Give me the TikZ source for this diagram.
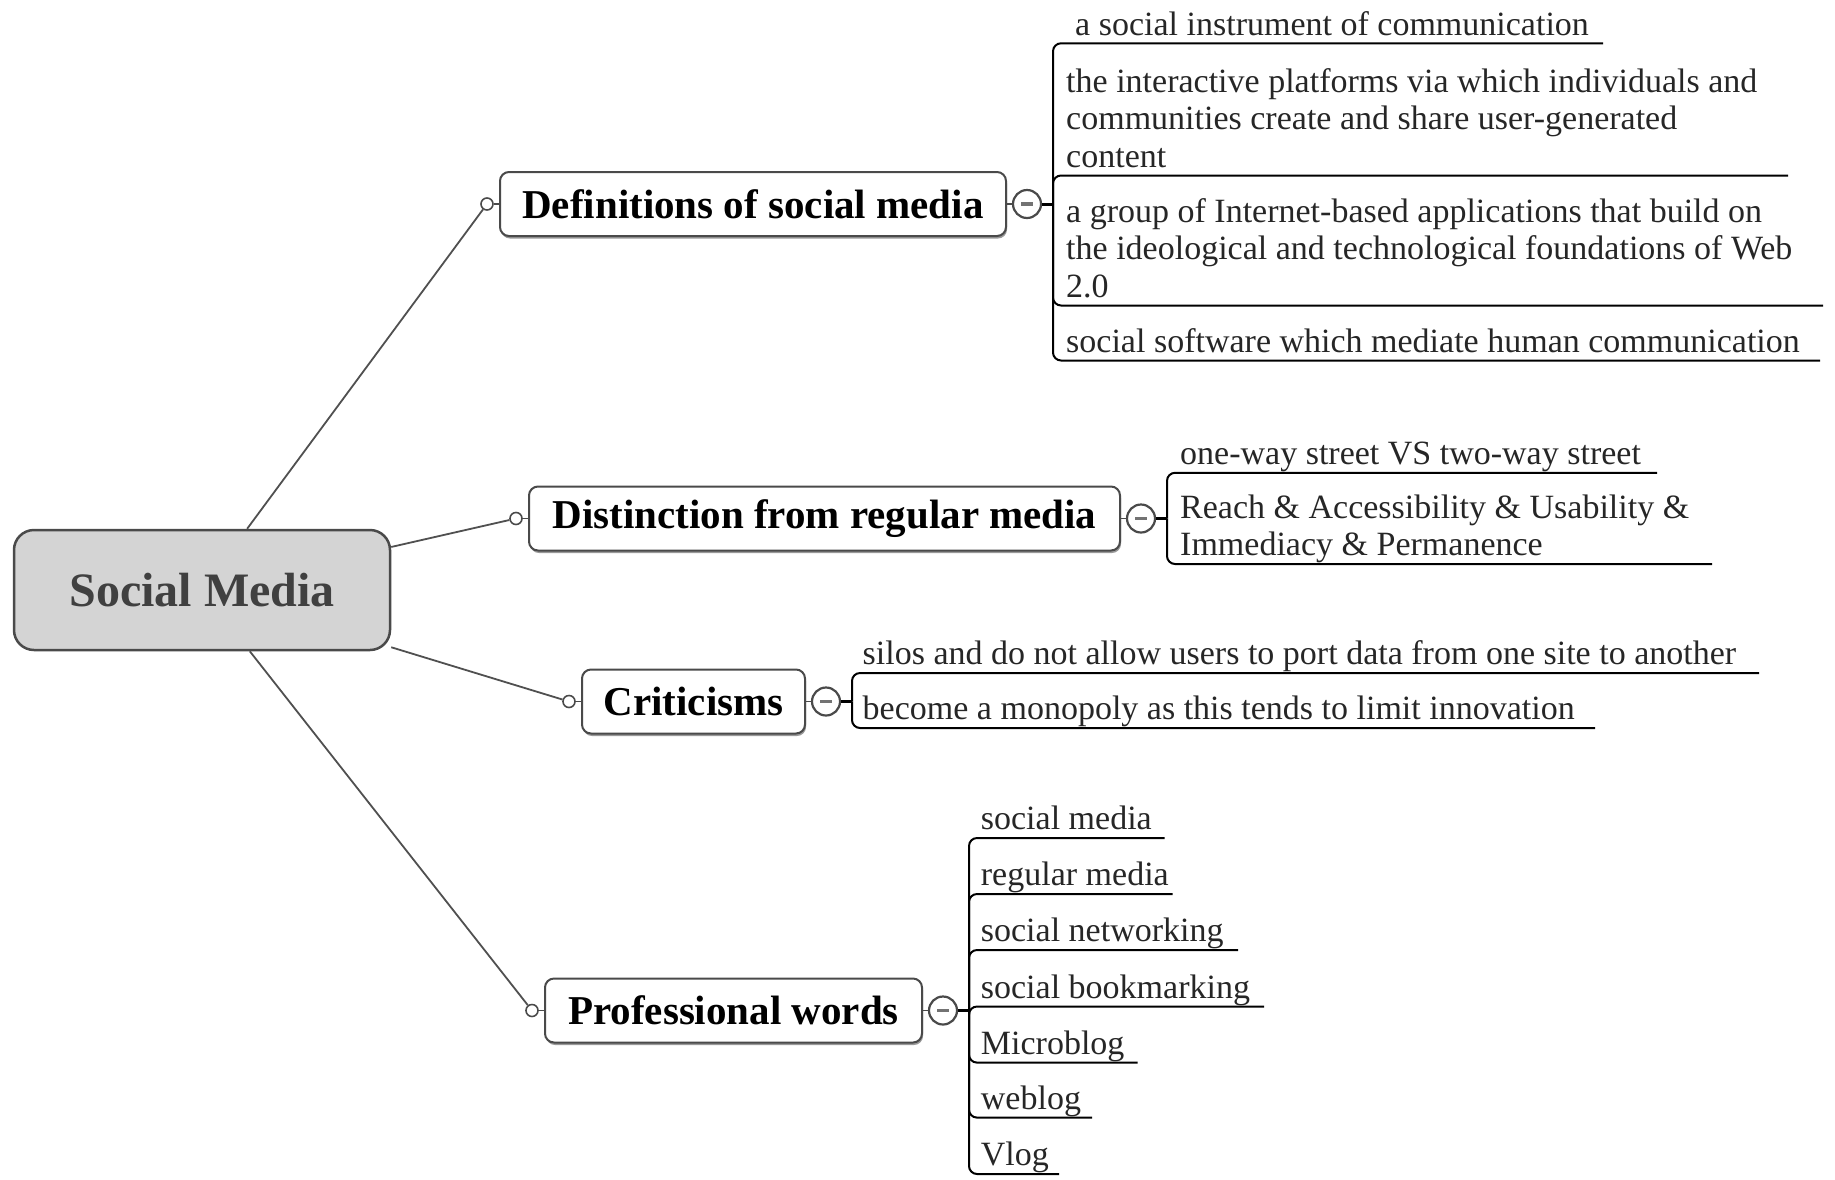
\documentclass[tikz,border=0pt]{standalone}
\usepackage{fontspec}
\setmainfont{Liberation Serif}
\usetikzlibrary{shadows}

\definecolor{boxline}{HTML}{4A4A4A}
\definecolor{rootfill}{HTML}{D4D4D4}
\definecolor{roottext}{HTML}{404040}
\definecolor{spokecol}{HTML}{505050}

\tikzset{
  root/.style={draw=boxline, line width=2.5pt, fill=rootfill, rounded corners=20pt,
    minimum width=376pt, minimum height=120pt, inner sep=0pt, text=roottext,
    font=\fontsize{48}{56}\selectfont\bfseries},
  topic/.style={draw=boxline, line width=2pt, fill=white, rounded corners=9pt,
    minimum height=64pt, inner sep=0pt, font=\fontsize{41}{48}\selectfont\bfseries,
    drop shadow={shadow xshift=1pt, shadow yshift=-2.5pt, fill=black!50, opacity=0.8}},
  dot/.style={circle, draw=boxline, line width=1.6pt, fill=white, minimum size=12pt, inner sep=0pt},
  minus/.style={circle, draw=boxline, line width=2.2pt, fill=white, minimum size=28pt, inner sep=0pt,
    path picture={\draw[black!55, line width=3.5pt]
      ([xshift=-6pt]path picture bounding box.center) -- ([xshift=6pt]path picture bounding box.center);}},
  spoke/.style={draw=spokecol, line width=1.8pt},
  stub/.style={draw=boxline, line width=1.8pt},
  joint/.style={draw=black, line width=3pt},
  leafline/.style={draw=black, line width=2pt, rounded corners=8pt},
  leaf/.style={anchor=south west, inner sep=0pt, align=left, text=black!85,
    font=\fontsize{34}{37.5}\selectfont},
}

% name, x of text, y of underline, text
\newcommand\leafnode[4]{\node[leaf] (#1) at (#2,#3+3.25) {#4\strut};}

\begin{document}
\begin{tikzpicture}[x=1pt, y=-1pt]
\useasboundingbox (0,0) rectangle (1835,1179);

% central topic
\node[root] (root) at (202,590) {Social Media};

% main topics
\node[topic, minimum width=506pt] (def)  at (753,204)   {Definitions of social media};
\node[topic, minimum width=591pt] (dist) at (824.5,518.5) {Distinction from regular media};
\node[topic, minimum width=223pt] (crit) at (693.5,701.5) {Criticisms};
\node[topic, minimum width=377pt] (prof) at (733.5,1010.5) {Professional words};

% connection dots, collapse buttons and junctions
\foreach \t in {def,dist,crit,prof}{
  \node[dot] (\t-in) at ([xshift=-12pt]\t.west) {};
  \node[minus] (\t-out) at ([xshift=20pt]\t.east) {};
  \coordinate (\t-j) at ([xshift=26pt]\t-out.center);
  \draw[stub] (\t.west) -- (\t-in);
  \draw[stub] (\t.east) -- (\t-out);
  \draw[joint] (\t-out) -- (\t-j);
  \draw[spoke] (root) -- (\t-in);
}

% --- Definitions of social media
\coordinate (def-e1) at (1603,43.3);
\coordinate (def-e2) at (1788,175.5);
\coordinate (def-e3) at (1823,305.5);
\coordinate (def-e4) at (1820,360.5);
\foreach \i in {1,...,4}{\draw[leafline] (def-j) |- (def-e\i);}
\leafnode{def-t1}{1075}{43.3}{a social instrument of communication}
\leafnode{def-t2}{1066}{175.5}{the interactive platforms via which individuals and\\communities create and share user-generated\\content}
\leafnode{def-t3}{1066}{305.5}{a group of Internet-based applications that build on\\the ideological and technological foundations of Web\\2.0}
\leafnode{def-t4}{1066}{360.5}{social software which mediate human communication}

% --- Distinction from regular media
\coordinate (dist-e1) at (1657,472.8);
\coordinate (dist-e2) at (1712,564);
\foreach \i in {1,2}{\draw[leafline] (dist-j) |- (dist-e\i);}
\leafnode{dist-t1}{1180}{472.8}{one-way street VS two-way street}
\leafnode{dist-t2}{1180}{564}{Reach \& Accessibility \& Usability \&\\Immediacy \& Permanence}

% --- Criticisms
\coordinate (crit-e1) at (1759,673);
\coordinate (crit-e2) at (1595,728);
\foreach \i in {1,2}{\draw[leafline] (crit-j) |- (crit-e\i);}
\leafnode{crit-t1}{862.5}{673}{silos and do not allow users to port data from one site to another}
\leafnode{crit-t2}{862.5}{728}{become a monopoly as this tends to limit innovation}

% --- Professional words
\coordinate (prof-e1) at (1164.5,838);
\coordinate (prof-e2) at (1172.6,894);
\coordinate (prof-e3) at (1238,950);
\coordinate (prof-e4) at (1264,1006.5);
\coordinate (prof-e5) at (1137.5,1062.6);
\coordinate (prof-e6) at (1092,1117.6);
\coordinate (prof-e7) at (1059,1174);
\foreach \i in {1,...,7}{\draw[leafline] (prof-j) |- (prof-e\i);}
\leafnode{prof-t1}{980.7}{838}{social media}
\leafnode{prof-t2}{980.7}{894}{regular media}
\leafnode{prof-t3}{980.7}{950}{social networking}
\leafnode{prof-t4}{980.7}{1006.5}{social bookmarking}
\leafnode{prof-t5}{980.7}{1062.6}{Microblog}
\leafnode{prof-t6}{980.7}{1117.6}{weblog}
\leafnode{prof-t7}{980.7}{1174}{Vlog}
\end{tikzpicture}
\end{document}
